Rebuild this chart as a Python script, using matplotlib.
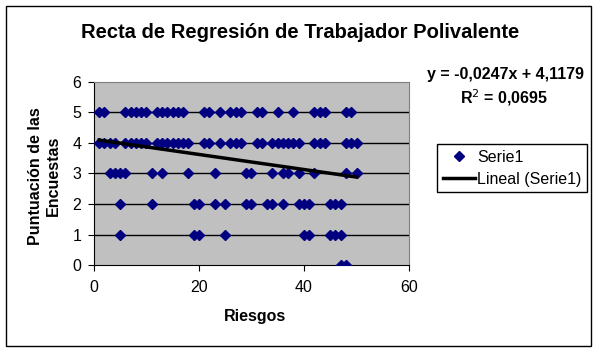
import numpy as np
import matplotlib.pyplot as plt
from matplotlib.patches import Rectangle

plt.rcParams['font.family'] = ['Liberation Sans', 'DejaVu Sans']

# puntos por nivel de puntuacion (x = riesgos)
x_p5 = [1, 2, 6, 7, 8, 9, 10, 12, 13, 14, 15, 16, 17, 21, 22, 24, 26, 27, 28,
        31, 32, 35, 38, 42, 43, 44, 48, 49]
x_p4 = [1, 2, 3, 4, 6, 7, 8, 9, 10, 12, 13, 14, 15, 16, 17, 18, 21, 22, 24,
        26, 27, 28, 31, 32, 34, 35, 36, 37, 38, 39, 42, 43, 44, 48, 49, 50]
x_p3 = [3, 4, 5, 6, 11, 13, 18, 23, 29, 30, 34, 36, 37, 39, 42, 48, 50]
x_p2 = [5, 11, 19, 20, 23, 25, 29, 30, 33, 34, 36, 39, 40, 41, 45, 46, 47]
x_p1 = [5, 19, 20, 25, 40, 41, 45, 46, 47]
x_p0 = [47, 48]

slope = -0.0247
intercept = 4.1179
r2 = 0.0695

riesgos = np.array(x_p5 + x_p4 + x_p3 + x_p2 + x_p1 + x_p0)
puntos = np.array([5] * len(x_p5) + [4] * len(x_p4) + [3] * len(x_p3)
                  + [2] * len(x_p2) + [1] * len(x_p1) + [0] * len(x_p0))

fig = plt.figure(figsize=(5.98, 3.53), dpi=100)
fig.patches.append(Rectangle((0.010, 0.020), 0.978, 0.963, transform=fig.transFigure,
                             fill=False, edgecolor='black', linewidth=1))

ax = fig.add_axes([0.157, 0.249, 0.527, 0.519])
ax.set_facecolor('#C0C0C0')
ax.set_xlim(0, 60)
ax.set_ylim(0, 6)
ax.set_xticks([0, 20, 40, 60])
ax.set_yticks(range(0, 7))
for yy in range(1, 6):
    ax.axhline(yy, color='black', linewidth=1, zorder=1)

ax.plot(riesgos, puntos, linestyle='none', marker='D', markersize=4.8,
        color='#000080', label='Serie1', zorder=3)
xl = np.array([riesgos.min(), riesgos.max()])
ax.plot(xl, slope * xl + intercept, color='black', linewidth=2.5,
        label='Lineal (Serie1)', zorder=4)

for s in ['top', 'right']:
    ax.spines[s].set_color('#808080')
for s in ['left', 'bottom']:
    ax.spines[s].set_color('black')
ax.tick_params(direction='out', length=4, labelsize=11.5, colors='black')
ax.tick_params(axis='x', pad=7)
ax.tick_params(axis='y', pad=5)

fig.text(0.502, 0.909, 'Recta de Regresión de Trabajador Polivalente',
         ha='center', va='center', fontsize=14.5, fontweight='bold')
fig.text(0.427, 0.102, 'Riesgos', ha='center', va='center', fontsize=11.5,
         fontweight='bold')
fig.text(0.075, 0.501, 'Puntuación de las\nEncuestas', ha='center', va='center',
         rotation=90, fontsize=11.5, fontweight='bold', linespacing=1.25)

eq = 'y = ' + f'{slope:.4f}'.replace('.', ',') + 'x + ' + f'{intercept:.4f}'.replace('.', ',')
fig.text(0.846, 0.788, eq, ha='center', va='center', fontsize=11.5, fontweight='bold')
fig.text(0.843, 0.722, 'R$^2$ = ' + f'{r2:.4f}'.replace('.', ','), ha='center',
         va='center', fontsize=11.5, fontweight='bold')

leg = fig.legend(loc='upper left', bbox_to_anchor=(0.731, 0.592), fontsize=11.5,
                 frameon=True, fancybox=False, edgecolor='black', framealpha=1,
                 borderpad=0.35, handlelength=2.0, labelspacing=0.45,
                 borderaxespad=0, handletextpad=0.15)
leg.get_frame().set_linewidth(1)

fig.savefig('out.png', dpi=100)
